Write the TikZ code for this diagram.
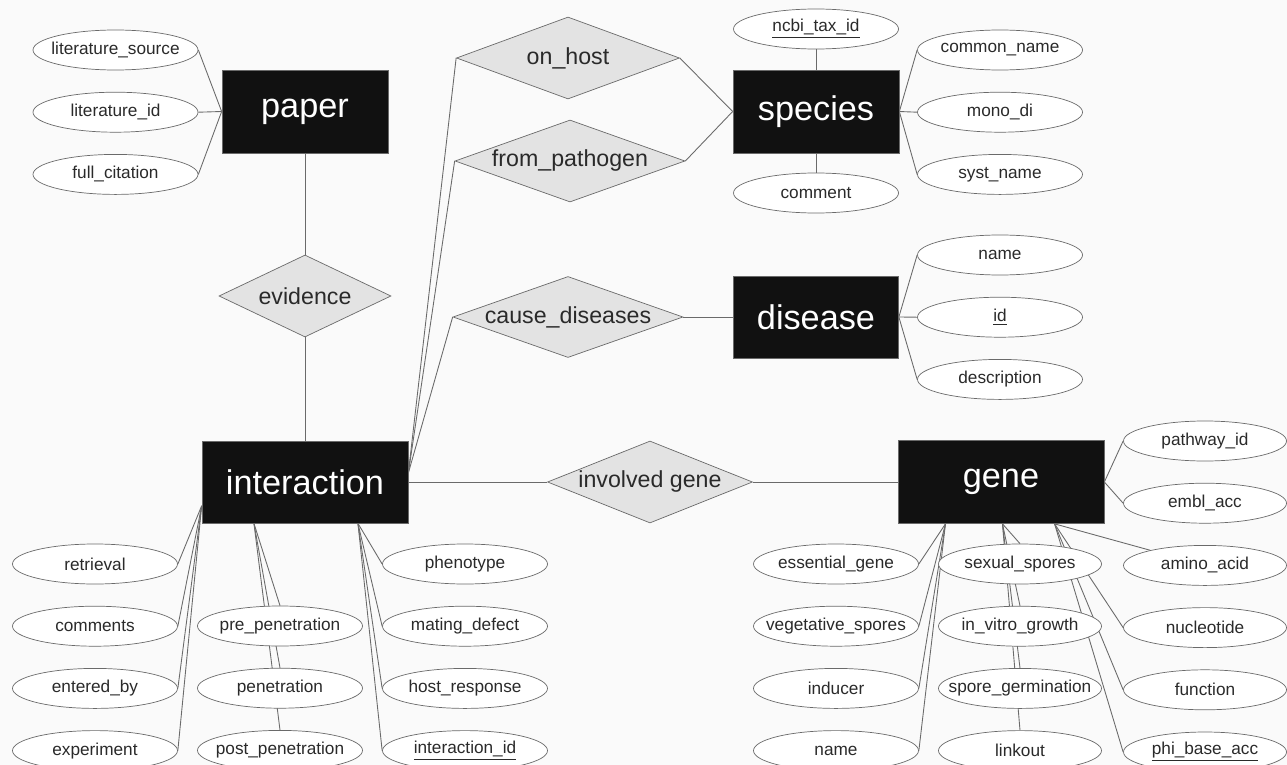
\documentclass[tikz,border=0pt]{standalone}
\usepackage{fontspec}
\setmainfont{Liberation Sans}
\usetikzlibrary{shapes.geometric,positioning,backgrounds}

\definecolor{entfill}{HTML}{111111}
\definecolor{relfill}{HTML}{E3E3E3}
\definecolor{edgegray}{HTML}{6A6A6A}
\definecolor{txtgray}{HTML}{2A2A2A}
\definecolor{bggray}{HTML}{FAFAFA}

% label in a zero-width box, so the shape size comes from the style only
\newcommand{\clab}[1]{\makebox[0pt]{#1}}

\tikzset{
  entity/.style={rectangle, draw=edgegray, fill=entfill, text=white,
    minimum width=3.32cm, minimum height=1.66cm, font=\fontsize{19.5}{22}\selectfont},
  relation/.style={diamond, draw=edgegray, fill=relfill, text=txtgray,
    inner sep=0pt, font=\fontsize{13.2}{15}\selectfont},
  attribute/.style={ellipse, draw=edgegray, fill=white, text=txtgray,
    inner sep=0pt, minimum width=3.3cm, minimum height=0.8cm,
    font=\fontsize{9.8}{11}\selectfont},
  link/.style={draw=edgegray, line width=0.5pt},
}

\begin{document}
\begin{tikzpicture}[node distance=0.43cm]
  \useasboundingbox (0,0) rectangle (25.74,-15.30);
  \begin{pgfonlayer}{background}
    \fill[bggray] (0,0) rectangle (25.74,-15.30);
  \end{pgfonlayer}

  % entities
  \node[entity] (paper) at (6.10,-2.23) {paper};
  \node[entity] (species) at (16.32,-2.23) {species};
  \node[entity, minimum width=3.30cm, minimum height=1.64cm] (disease) at (16.32,-6.34) {disease};
  \node[entity, minimum width=4.12cm, minimum height=1.64cm] (inter) at (6.10,-9.64) {interaction};
  \node[entity, minimum width=4.12cm, minimum height=1.66cm] (gene) at (20.02,-9.64) {gene};

  % relationships
  \node[relation, minimum width=3.44cm, minimum height=1.64cm] (evidence) at (6.10,-5.92) {\clab{evidence}};
  \node[relation, minimum width=4.46cm, minimum height=1.64cm] (onhost) at (11.36,-1.16) {\clab{on\_host}};
  \node[relation, minimum width=4.60cm, minimum height=1.64cm] (frompath) at (11.40,-3.22) {\clab{from\_pathogen}};
  \node[relation, minimum width=4.60cm, minimum height=1.62cm] (causedis) at (11.36,-6.34) {\clab{cause\_diseases}};
  \node[relation, minimum width=4.10cm, minimum height=1.64cm] (involved) at (13.00,-9.64) {\clab{involved gene}};

  % paper attributes
  \node[attribute] (litsrc) at (2.31,-1.00) {\clab{literature\_source}};
  \node[attribute, below=of litsrc] (litid) {\clab{literature\_id}};
  \node[attribute, below=of litid] (fullcit) {\clab{full\_citation}};

  % species attributes
  \node[attribute] (ncbi) at (16.32,-0.58) {\clab{\underline{ncbi\_tax\_id}}};
  \node[attribute] (spcomment) at (16.32,-3.86) {\clab{comment}};
  \node[attribute] (common) at (20.00,-1.00) {\clab{common\_name}};
  \node[attribute, below=of common] (monodi) {\clab{mono\_di}};
  \node[attribute, below=of monodi] (syst) {\clab{syst\_name}};

  % disease attributes
  \node[attribute] (dname) at (20.00,-5.10) {\clab{name}};
  \node[attribute, below=of dname] (did) {\clab{\underline{id}}};
  \node[attribute, below=of did] (ddesc) {\clab{description}};

  % interaction attributes
  \node[attribute] (retrieval) at (1.90,-11.28) {\clab{retrieval}};
  \node[attribute, below=of retrieval] (comments) {\clab{comments}};
  \node[attribute, below=of comments] (enteredby) {\clab{entered\_by}};
  \node[attribute, below=of enteredby] (experiment) {\clab{experiment}};
  \node[attribute] (prepen) at (5.60,-12.52) {\clab{pre\_penetration}};
  \node[attribute, below=of prepen] (pen) {\clab{penetration}};
  \node[attribute, below=of pen] (postpen) {\clab{post\_penetration}};
  \node[attribute] (phenotype) at (9.30,-11.28) {\clab{phenotype}};
  \node[attribute, below=of phenotype] (mating) {\clab{mating\_defect}};
  \node[attribute, below=of mating] (hostresp) {\clab{host\_response}};
  \node[attribute, below=of hostresp] (interid) {\clab{\underline{interaction\_id}}};

  % gene attributes
  \node[attribute] (essential) at (16.72,-11.28) {\clab{essential\_gene}};
  \node[attribute, below=of essential] (vegspores) {\clab{vegetative\_spores}};
  \node[attribute, below=of vegspores] (inducer) {\clab{inducer}};
  \node[attribute, below=of inducer] (gname) {\clab{name}};
  \node[attribute, minimum width=3.26cm] (sexspores) at (20.40,-11.28) {\clab{sexual\_spores}};
  \node[attribute, minimum width=3.26cm, below=of sexspores] (invitro) {\clab{in\_vitro\_growth}};
  \node[attribute, minimum width=3.26cm, below=of invitro] (sporegerm) {\clab{spore\_germination}};
  \node[attribute, minimum width=3.26cm, below=of sporegerm] (linkout) {\clab{linkout}};
  \node[attribute, minimum width=3.26cm] (pathway) at (24.10,-8.82) {\clab{pathway\_id}};
  \node[attribute, minimum width=3.26cm, below=of pathway] (embl) {\clab{embl\_acc}};
  \node[attribute, minimum width=3.26cm, below=of embl] (amino) {\clab{amino\_acid}};
  \node[attribute, minimum width=3.26cm, below=of amino] (nucleo) {\clab{nucleotide}};
  \node[attribute, minimum width=3.26cm, below=of nucleo] (function) {\clab{function}};
  \node[attribute, minimum width=3.26cm, below=of function] (phibase) {\clab{\underline{phi\_base\_acc}}};

  \begin{pgfonlayer}{background}
    % relationships
    \draw[link] (paper.south) -- (evidence.north);
    \draw[link] (evidence.south) -- (inter.north);
    \draw[link] (inter.5) -- (onhost.west);
    \draw[link] (inter.5) -- (frompath.west);
    \draw[link] (inter.5) -- (causedis.west);
    \draw[link] (onhost.east) -- (species.west);
    \draw[link] (frompath.east) -- (species.west);
    \draw[link] (causedis.east) -- (disease.west);
    \draw[link] (inter.east) -- (involved.west);
    \draw[link] (involved.east) -- (gene.west);

    % attributes
    \draw[link] (litsrc.east) -- (paper.west);
    \draw[link] (litid.east) -- (paper.west);
    \draw[link] (fullcit.east) -- (paper.west);
    \draw[link] (ncbi.south) -- (species.north);
    \draw[link] (species.south) -- (spcomment.north);
    \draw[link] (species.east) -- (common.west);
    \draw[link] (species.east) -- (monodi.west);
    \draw[link] (species.east) -- (syst.west);
    \draw[link] (disease.east) -- (dname.west);
    \draw[link] (disease.east) -- (did.west);
    \draw[link] (disease.east) -- (ddesc.west);

    \draw[link] (inter.193) -- (retrieval.east);
    \draw[link] (inter.193) -- (comments.east);
    \draw[link] (inter.193) -- (enteredby.east);
    \draw[link] (inter.193) -- (experiment.east);
    \draw[link] (inter.219) -- (prepen.north);
    \draw[link] (inter.219) -- (pen.north);
    \draw[link] (inter.219) -- (postpen.north);
    \draw[link] (inter.322) -- (phenotype.west);
    \draw[link] (inter.322) -- (mating.west);
    \draw[link] (inter.322) -- (hostresp.west);
    \draw[link] (inter.322) -- (interid.west);

    \draw[link] (gene.east) -- (pathway.west);
    \draw[link] (gene.east) -- (embl.west);
    \draw[link] (gene.217) -- (essential.east);
    \draw[link] (gene.217) -- (vegspores.east);
    \draw[link] (gene.217) -- (inducer.east);
    \draw[link] (gene.217) -- (gname.east);
    \draw[link] (gene.272) -- (sexspores.north);
    \draw[link] (gene.272) -- (invitro.north);
    \draw[link] (gene.272) -- (sporegerm.north);
    \draw[link] (gene.272) -- (linkout.north);
    \draw[link] (gene.322) -- (amino);
    \draw[link] (gene.322) -- (nucleo.west);
    \draw[link] (gene.322) -- (function.west);
    \draw[link] (gene.322) -- (phibase.west);
  \end{pgfonlayer}
\end{tikzpicture}
\end{document}
